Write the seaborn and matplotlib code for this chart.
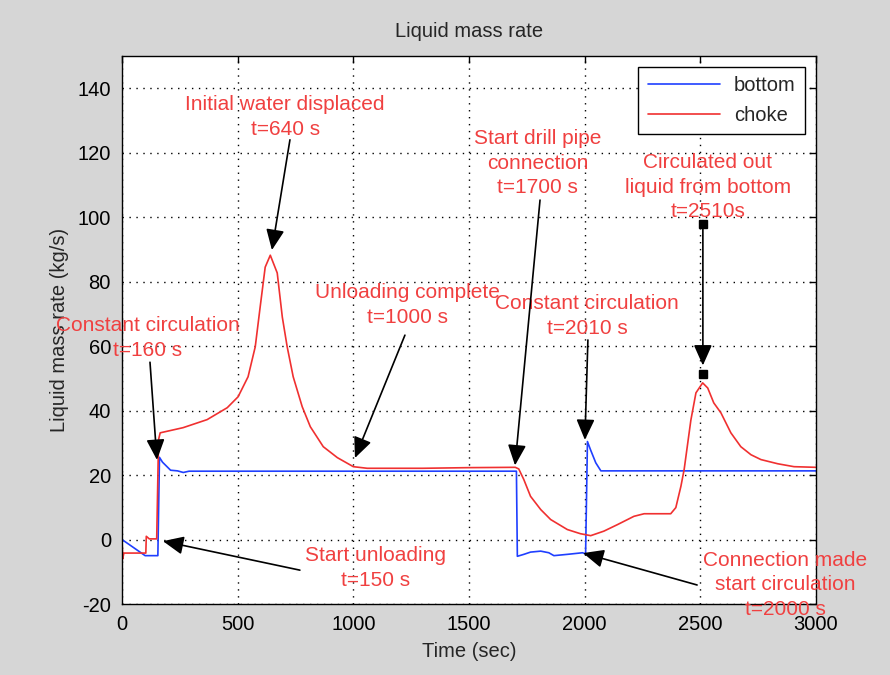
import matplotlib
matplotlib.use("Agg")
import matplotlib.pyplot as plt
import seaborn as sns
import pandas as pd
import numpy as np

# ---------------- data ----------------
bottom_t = [0, 100, 155, 162, 175, 210, 240, 265, 290, 1705, 1709, 1737, 1766, 1810,
            1845, 1867, 1925, 1991, 2004, 2012, 2025, 2048, 2070, 3000]
bottom_v = [0, -5, -5, 25.5, 24, 21.5, 21.3, 20.8, 21.2, 21.2, -5.2, -4.6, -3.9, -3.6,
            -4.1, -5.0, -4.6, -4.1, -4.5, 30.4, 27.9, 23.8, 21.3, 21.3]

choke_t = [0, 3, 8, 103, 105, 118, 150, 158, 165, 264, 368, 455, 502, 545, 576, 597,
           619, 641, 671, 693, 714, 740, 779, 814, 870, 931, 1000, 1060, 1300, 1500,
           1700, 1715, 1737, 1766, 1810, 1853, 1925, 1982, 2026, 2083, 2141, 2213,
           2257, 2372, 2394, 2416, 2430, 2459, 2481, 2510, 2532, 2558, 2589, 2632,
           2675, 2719, 2762, 2835, 2905, 3000]
choke_v = [0, -6, -4.2, -4.2, 1.0, 0.2, 0.2, 31, 33.1, 34.7, 37.2, 40.9, 44.3, 50.5,
           59.8, 72, 84.5, 88.2, 82.7, 69, 59.8, 50.5, 41.2, 35, 28.8, 25.4, 22.6,
           22.1, 22.1, 22.3, 22.4, 21.9, 18.6, 13.4, 9.3, 6.2, 3.1, 1.8, 1.2, 2.6,
           4.6, 7.2, 8.0, 8.0, 9.9, 16.5, 21.7, 37, 45.5, 48.6, 47, 42.4, 39.3, 33.1,
           28.8, 26.3, 24.8, 23.5, 22.6, 22.4]

series_names = ["bottom", "choke"]
series_colors = ["#1f3fff", "#f03030"]

x_ticks = [0, 500, 1000, 1500, 2000, 2500, 3000]
y_ticks = [-20, 0, 20, 40, 60, 80, 100, 120, 140]

ann_texts = ["Constant circulation\nt=160 s",
             "Initial water displaced\nt=640 s",
             "Unloading complete\nt=1000 s",
             "Start drill pipe\nconnection\nt=1700 s",
             "Constant circulation\nt=2010 s",
             "Start unloading\nt=150 s",
             "Connection made\nstart circulation\nt=2000 s"]
ann_text_pos = [(112, 62.5), (705, 131), (1236, 72.7), (1798, 116.8), (2010, 69.3),
                (1094, -8.8), (2866, -14.1)]
ann_tail = [(121, 55), (726, 124), (1223, 63.4), (1807, 105.3), (2014, 61.9),
            (769, -9.5), (2486, -14.1)]
ann_tip = [(151, 24.7), (648, 89.8), (1007, 25.3), (1699, 23), (2001, 30.9),
           (177, -0.5), (1993, -4.2)]

sq_text = "Circulated out\nliquid from bottom\nt=2510s"
sq_text_pos = (2533, 109.3)
sq_start = (2511, 97.8)
sq_end = (2511, 51.5)

# ---------------- figure ----------------
sns.set_style("white")
plt.rcParams["font.family"] = ["Liberation Sans", "DejaVu Sans"]
plt.rcParams["axes.unicode_minus"] = False

fig = plt.figure(figsize=(8.9, 6.75), dpi=100, facecolor="#d6d6d6")
ax = fig.add_axes([122 / 890, 1 - 604 / 675, (816 - 122) / 890, (604 - 56) / 675])
ax.set_facecolor("white")

df = pd.concat([
    pd.DataFrame({"t": bottom_t, "v": bottom_v, "series": series_names[0]}),
    pd.DataFrame({"t": choke_t, "v": choke_v, "series": series_names[1]}),
], ignore_index=True)

sns.lineplot(data=df, x="t", y="v", hue="series", palette=dict(zip(series_names, series_colors)),
             estimator=None, sort=False, lw=1.2, ax=ax, legend=True)

ax.set_xlim(0, 3000)
ax.set_ylim(-20, 150)
ax.set_xticks(x_ticks)
ax.set_yticks(y_ticks)
ax.tick_params(direction="in", length=5, width=1, top=True, right=True, labelsize=14.5,
               colors="black", pad=8)
ax.grid(True, linestyle=(0, (1, 4)), color="black", linewidth=1.0)
for s in ax.spines.values():
    s.set_color("black")
    s.set_linewidth(1.0)

ax.set_title("Liquid mass rate", fontsize=14.5, pad=14)
ax.set_xlabel("Time (sec)", fontsize=14.5, labelpad=6)
ax.set_ylabel("Liquid mass rate (kg/s)", fontsize=14.5, labelpad=6)

handles, labels = ax.get_legend_handles_labels()
leg = ax.legend(handles, labels, loc="upper right", fontsize=14.5, frameon=True, fancybox=False,
                edgecolor="black", facecolor="white", framealpha=1, handlelength=3.6,
                borderaxespad=0.55, borderpad=0.45, labelspacing=0.55, handletextpad=0.7)
leg.get_frame().set_linewidth(1.0)

red_txt = "#f04040"
arrow_kw = dict(arrowstyle="-|>,head_length=0.9,head_width=0.4", color="black", lw=1.2,
                shrinkA=0, shrinkB=0, mutation_scale=14)
for txt, tp, tail, tip in zip(ann_texts, ann_text_pos, ann_tail, ann_tip):
    ax.text(tp[0], tp[1], txt, color=red_txt, fontsize=15, ha="center", va="center",
            linespacing=1.38, clip_on=False, zorder=5)
    ax.annotate("", xy=tip, xytext=tail, arrowprops=arrow_kw, annotation_clip=False, zorder=6)

ax.text(sq_text_pos[0], sq_text_pos[1], sq_text, color=red_txt, fontsize=15, ha="center",
        va="center", linespacing=1.38, clip_on=False, zorder=5)
ax.annotate("", xy=(sq_end[0], sq_end[1] + 2.5), xytext=sq_start, arrowprops=arrow_kw, zorder=6)
ax.plot([sq_start[0], sq_end[0]], [sq_start[1], sq_end[1]], ls="none", marker="s",
        color="black", markersize=6, zorder=7)

fig.savefig("out.png", dpi=100, facecolor=fig.get_facecolor())
